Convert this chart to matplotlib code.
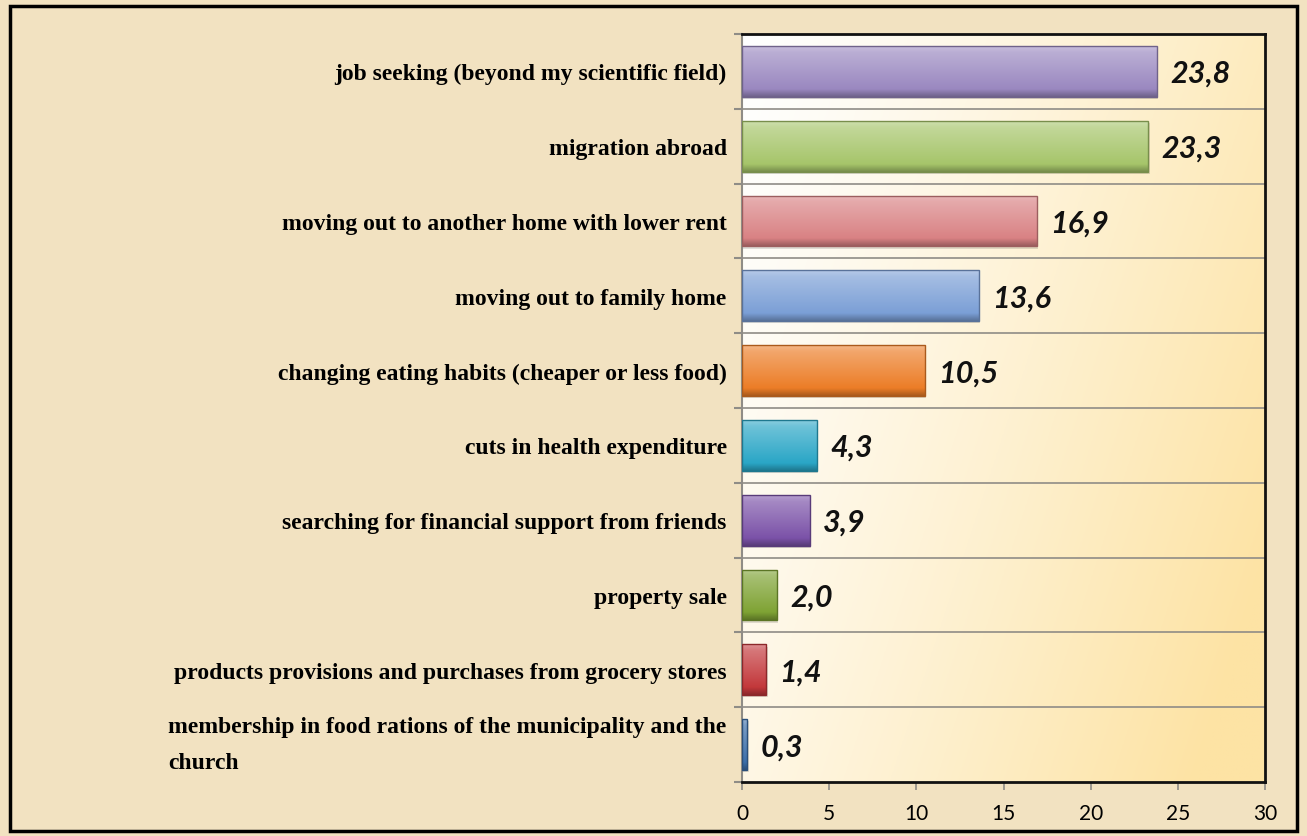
import numpy as np
import matplotlib.pyplot as plt
import matplotlib.colors as mcolors
from matplotlib.patches import Rectangle

# data (top to bottom as in the chart)
categories = [
    "job seeking (beyond my scientific field)",
    "migration abroad",
    "moving out to another home with lower rent",
    "moving out to family home",
    "changing eating habits (cheaper or less food)",
    "cuts in health expenditure",
    "searching for financial support from friends",
    "property sale",
    "products provisions and purchases from grocery stores",
    "membership in food rations of the municipality and the\nchurch",
]
values = [23.8, 23.3, 16.9, 13.6, 10.5, 4.3, 3.9, 2.0, 1.4, 0.3]
value_labels = ["23,8", "23,3", "16,9", "13,6", "10,5", "4,3", "3,9", "2,0", "1,4", "0,3"]
bar_colors = ["#9a88c0", "#a6c56a", "#d98284", "#7b9fd6", "#ec7d27",
              "#2aa6c6", "#7b52a8", "#7fa334", "#c3383b", "#3b6ea9"]
x_ticks = [0, 5, 10, 15, 20, 25, 30]

fig = plt.figure(figsize=(13.07, 8.37), dpi=100)
fig.patch.set_facecolor("#f2e2c1")

# outer frame
fig.patches.append(Rectangle((0.008, 0.006), 0.984, 0.986, transform=fig.transFigure,
                             fill=False, edgecolor="black", linewidth=2.5))

ax = fig.add_axes([0.5677, 0.0645, 0.4002, 0.8937])
n = len(categories)
ypos = np.arange(n)[::-1]

ax.set_xlim(0, 30)
ax.set_ylim(-0.5, n - 0.5)

# plot area gradient: white on the left, warm yellow on the lower right
gx, gy = np.meshgrid(np.linspace(0, 1, 200), np.linspace(0, 1, 200))
t = np.clip(0.75 * gx + 0.35 * gy, 0, 1) ** 1.2
c0 = np.array(mcolors.to_rgb("#ffffff"))
c1 = np.array(mcolors.to_rgb("#fde3a4"))
grad = c0 + (c1 - c0) * t[..., None]
ax.imshow(grad, extent=[0, 30, -0.5, n - 0.5], origin="upper", aspect="auto", zorder=0)

# grid lines between categories
for b in np.arange(-0.5, n, 1.0)[1:-1]:
    ax.axhline(b, color="#8f8c86", linewidth=1.2, zorder=1)

bars = ax.barh(ypos, values, height=0.68, color=bar_colors, zorder=3,
               edgecolor="none")

# bevel-like vertical shading for each bar
shade = np.linspace(0, 1, 64)
for bar, col, v in zip(bars, bar_colors, values):
    base = np.array(mcolors.to_rgb(col))
    light = base + (1 - base) * 0.45
    dark = base * 0.72
    rows = []
    for s in shade:
        if s < 0.12:
            c = light + (base - light) * (s / 0.12) * 0.3
        elif s < 0.85:
            c = light * (1 - (s - 0.12) / 0.73) * 0.7 + base * (0.3 + 0.7 * (s - 0.12) / 0.73)
        else:
            c = base + (dark - base) * ((s - 0.85) / 0.15)
        rows.append(np.clip(c, 0, 1))
    img = np.array(rows)[:, None, :].repeat(2, axis=1)
    y0 = bar.get_y()
    h = bar.get_height()
    im = ax.imshow(img, extent=[0, v, y0, y0 + h], origin="upper",
                   aspect="auto", zorder=4)
    im.set_clip_path(bar)
    ax.add_patch(Rectangle((0, y0), v, h, fill=False, edgecolor=dark,
                           linewidth=1.0, zorder=5))
    # small drop shadow
    ax.add_patch(Rectangle((0.08, y0 - 0.03), v, h, facecolor="#000000", alpha=0.12,
                           edgecolor="none", zorder=2))

for y, v, lab in zip(ypos, values, value_labels):
    ax.text(v + 0.75, y - 0.02, lab, ha="left", va="center", fontsize=22,
            fontweight="bold", fontstyle="italic",
            family=["Lato", "DejaVu Sans"], color="#111111", zorder=6)

ax.set_yticks(ypos)
ax.set_yticklabels(categories, fontsize=17, fontweight="bold",
                   family=["Liberation Serif", "DejaVu Serif"],
                   multialignment="left", linespacing=1.9)
ax.get_yticklabels()[-1].set_va("center")
ax.tick_params(axis="y", length=0, pad=11)
ax.set_yticks(np.arange(-0.5, n, 1.0), minor=True)
ax.tick_params(axis="y", which="minor", length=6, width=1.5, color="#8f8c86", direction="out")

ax.set_xticks(x_ticks)
ax.set_xticklabels([str(v) for v in x_ticks], fontsize=15,
                   family=["Lato", "DejaVu Sans"])
ax.tick_params(axis="x", length=6, width=1.2, color="#8f8c86", pad=9)

for side in ["top", "right", "bottom"]:
    ax.spines[side].set_color("#111111")
    ax.spines[side].set_linewidth(2.0)
ax.spines["left"].set_color("#8f8c86")
ax.spines["left"].set_linewidth(1.5)

fig.savefig("out.png", dpi=100, facecolor=fig.get_facecolor())
